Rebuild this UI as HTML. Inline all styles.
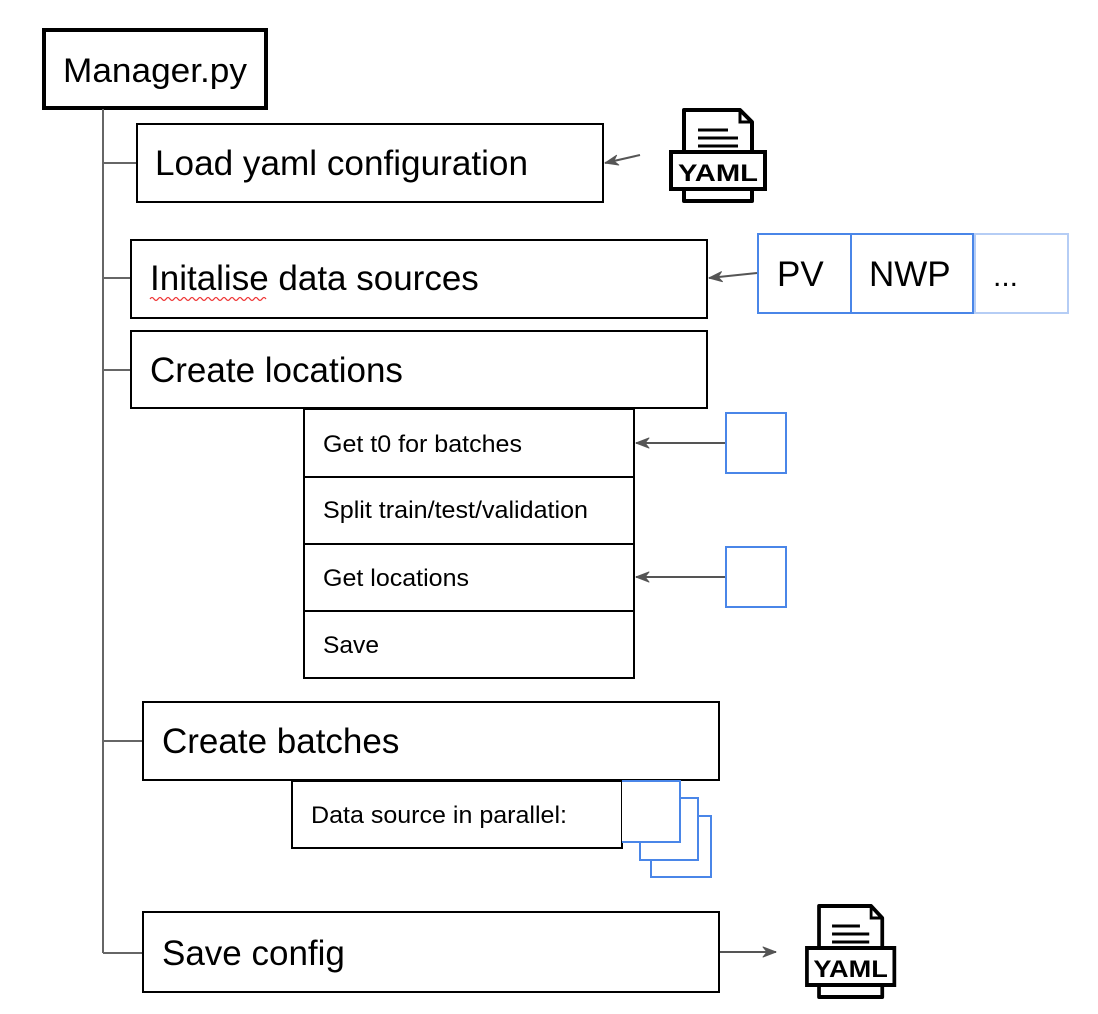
<!DOCTYPE html>
<html><head><meta charset="utf-8"><style>
html,body{margin:0;padding:0;background:#fff;}
svg{display:block;}
text{font-family:"Liberation Sans",Arial,sans-serif;fill:#000;}
</style></head><body>
<svg width="1098" height="1014" viewBox="0 0 1098 1014" xmlns="http://www.w3.org/2000/svg">
<defs>
<marker id="ah" markerWidth="16" markerHeight="12" refX="14" refY="6" orient="auto" markerUnits="userSpaceOnUse">
<path d="M1,1 L14,6 L1,11 L5,6 Z" fill="#555" stroke="#555" stroke-width="1" stroke-linejoin="round"/>
</marker>
<g id="yaml">
<path d="M14,2 H70 L82,14 V93 H14 Z" fill="#fff" stroke="#000" stroke-width="4" stroke-linejoin="round"/>
<path d="M70,2 V14 H82" fill="none" stroke="#000" stroke-width="3"/>
<line x1="28" y1="22" x2="58" y2="22" stroke="#000" stroke-width="3"/>
<line x1="28" y1="30" x2="68" y2="30" stroke="#000" stroke-width="3"/>
<line x1="28" y1="38" x2="68" y2="38" stroke="#000" stroke-width="3"/>
<rect x="1" y="44" width="94" height="37" fill="#fff" stroke="#000" stroke-width="4"/>
<text x="48" y="73" text-anchor="middle" font-size="24" font-weight="bold" textLength="80" lengthAdjust="spacingAndGlyphs">YAML</text>
</g>
</defs>

<rect x="44" y="30" width="222" height="78" fill="#fff" stroke="#000" stroke-width="4"/>
<text x="63" y="82" font-size="34" textLength="184" lengthAdjust="spacingAndGlyphs">Manager.py</text>

<g stroke="#666" stroke-width="2">
<line x1="103" y1="109" x2="103" y2="953"/>
<line x1="103" y1="163" x2="137" y2="163"/>
<line x1="103" y1="278" x2="131" y2="278"/>
<line x1="103" y1="370" x2="131" y2="370"/>
<line x1="103" y1="741" x2="143" y2="741"/>
<line x1="103" y1="953" x2="143" y2="953"/>
</g>

<g fill="#fff" stroke="#000" stroke-width="2">
<rect x="137" y="124" width="466" height="78"/>
<rect x="131" y="240" width="576" height="78"/>
<rect x="131" y="331" width="576" height="77"/>
<rect x="304" y="409" width="330" height="269"/>
<rect x="143" y="702" width="576" height="78"/>
<rect x="292" y="781" width="330" height="67"/>
<rect x="143" y="912" width="576" height="80"/>
</g>
<g stroke="#000" stroke-width="2">
<line x1="304" y1="477" x2="634" y2="477"/>
<line x1="304" y1="544" x2="634" y2="544"/>
<line x1="304" y1="611" x2="634" y2="611"/>
</g>

<text x="155" y="175" font-size="35" textLength="373" lengthAdjust="spacingAndGlyphs">Load yaml configuration</text>
<text x="150" y="290" font-size="35">Initalise data sources</text>
<path d="M150,299 q2,-3 4,0 t4,0 t4,0 t4,0 t4,0 t4,0 t4,0 t4,0 t4,0 t4,0 t4,0 t4,0 t4,0 t4,0 t4,0 t4,0 t4,0 t4,0 t4,0 t4,0 t4,0 t4,0 t4,0 t4,0 t4,0 t4,0 t4,0 t4,0 t4,0" fill="none" stroke="#e33" stroke-width="1.2"/>
<text x="150" y="382" font-size="35">Create locations</text>
<text x="323" y="452" font-size="24" textLength="199" lengthAdjust="spacingAndGlyphs">Get t0 for batches</text>
<text x="323" y="518" font-size="24" textLength="265" lengthAdjust="spacingAndGlyphs">Split train/test/validation</text>
<text x="323" y="586" font-size="24" textLength="146" lengthAdjust="spacingAndGlyphs">Get locations</text>
<text x="323" y="653" font-size="24" textLength="56" lengthAdjust="spacingAndGlyphs">Save</text>
<text x="162" y="753" font-size="35">Create batches</text>
<text x="311" y="823" font-size="24" textLength="256" lengthAdjust="spacingAndGlyphs">Data source in parallel:</text>
<text x="162" y="965" font-size="35">Save config</text>

<rect x="758" y="234" width="93" height="79" fill="#fff" stroke="#4a86e8" stroke-width="2"/>
<rect x="851" y="234" width="122" height="79" fill="#fff" stroke="#4a86e8" stroke-width="2"/>
<rect x="975" y="234" width="93" height="79" fill="#fff" stroke="#b5cdf5" stroke-width="2"/>
<text x="777" y="286" font-size="35">PV</text>
<text x="869" y="286" font-size="35">NWP</text>
<text x="993" y="286" font-size="30">...</text>

<rect x="726" y="413" width="60" height="60" fill="#fff" stroke="#4a86e8" stroke-width="2"/>
<rect x="726" y="547" width="60" height="60" fill="#fff" stroke="#4a86e8" stroke-width="2"/>

<path d="M638,816 H711 V877 H651 V816" fill="#fff" stroke="#4a86e8" stroke-width="2"/>
<path d="M628,798 H698 V860 H640 V798" fill="#fff" stroke="#4a86e8" stroke-width="2"/>
<path d="M622,781 H680 V842 H622" fill="#fff" stroke="#4a86e8" stroke-width="2"/>

<g stroke="#555" stroke-width="2" fill="none">
<line x1="640" y1="155" x2="605" y2="163" marker-end="url(#ah)"/>
<line x1="757" y1="273" x2="709" y2="278" marker-end="url(#ah)"/>
<line x1="725" y1="443" x2="636" y2="443" marker-end="url(#ah)"/>
<line x1="725" y1="577" x2="636" y2="577" marker-end="url(#ah)"/>
<line x1="720" y1="952" x2="776" y2="952" marker-end="url(#ah)"/>
</g>

<use href="#yaml" transform="translate(670,108)"/>
<use href="#yaml" transform="translate(806,904) scale(0.93,1)"/>
</svg>
</body></html>
